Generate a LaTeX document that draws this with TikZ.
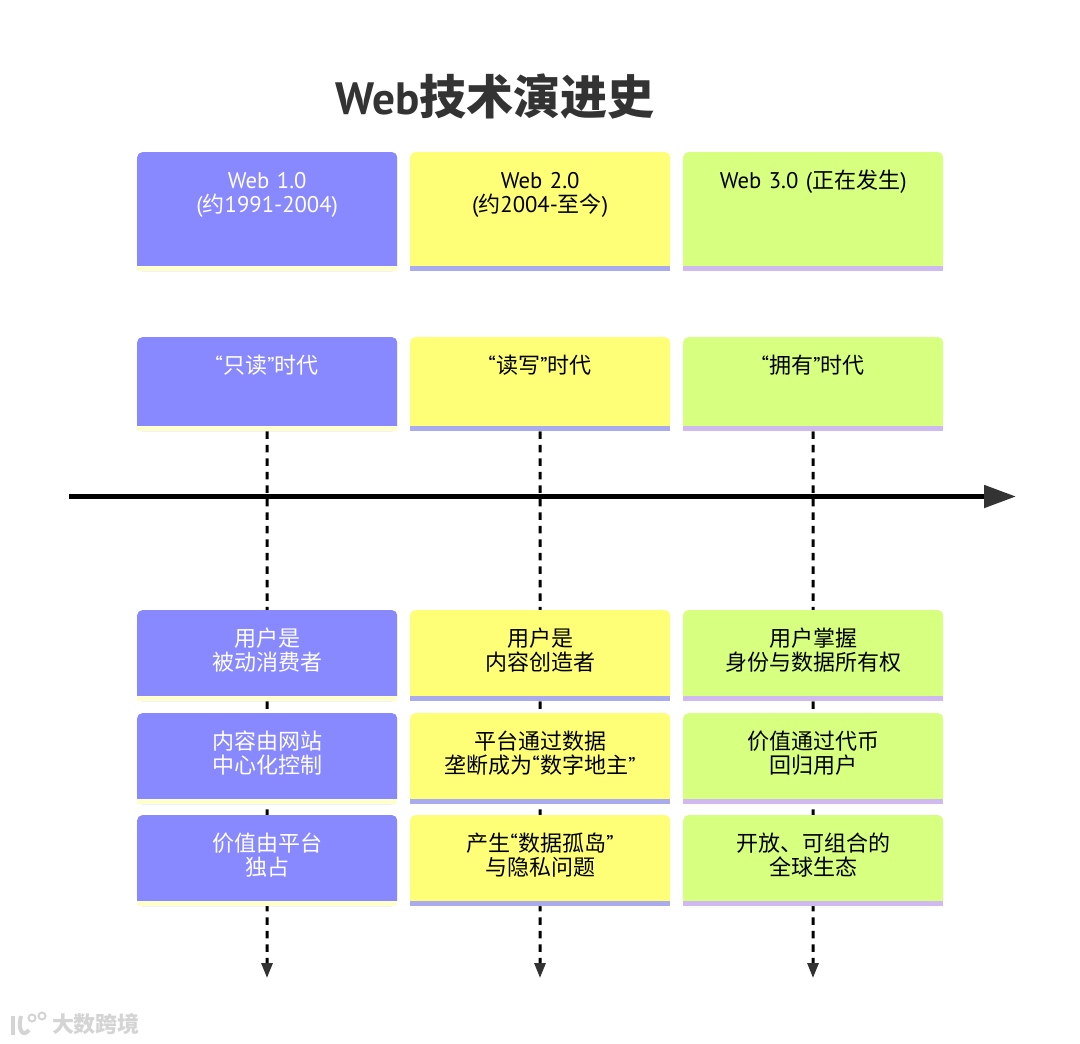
\documentclass[tikz,border=0pt]{standalone}
\usepackage{fontspec}
\setmainfont[Scale=1.03]{PT Sans}
\newfontfamily\cjkfont{Noto Sans CJK SC}
\newcommand{\zh}[1]{{\cjkfont #1}}
\usetikzlibrary{arrows.meta, backgrounds}
\definecolor{cardpurple}{HTML}{8888FF}
\definecolor{cardyellow}{HTML}{FFFF77}
\definecolor{cardgreen}{HTML}{D7FF80}
\definecolor{strippale}{HTML}{FFFFCC}
\definecolor{stripblue}{HTML}{AAAAEE}
\definecolor{striplilac}{HTML}{D0B8F0}
\definecolor{inkgray}{HTML}{333333}
\definecolor{markgray}{HTML}{D4D4D4}
\tikzset{
  card/.style={anchor=north west, fill=#1, rounded corners=5pt, inner sep=0pt,
    text width=260pt, align=center, text height=36pt, font=\fontsize{22}{24.5}\selectfont},
  one/.style={card=cardpurple, text=white},
  two/.style={card=cardyellow, text=black},
  three/.style={card=cardgreen, text=black},
}
\begin{document}
\begin{tikzpicture}[x=1pt,y=-1pt]
    \tikzstyle{lifeline} = [black, line width=3pt, dash pattern=on 7.5pt off 6pt, -{Triangle[length=15pt,width=11pt,color=inkgray]}]
    \tikzstyle{axis} = [black, line width=5pt, -{Triangle[length=32pt,width=22pt,color=inkgray]}]

    \useasboundingbox (0,0) rectangle (1080,1044);

    \node[font=\fontsize{44}{50}\selectfont\bfseries, text=inkgray] (title) at (495,96) {Web\zh{\fontsize{47}{50}\selectfont\bfseries 技术演进史}};

    \node[one, text depth=83pt] (v1) at (137,152) {Web 1.0\\(\zh{约}1991-2004)};
    \node[two, text depth=83pt] (v2) at (410,152) {Web 2.0\\(\zh{约}2004-\zh{至今})};
    \node[three, text depth=83pt] (v3) at (683,152) {Web 3.0 (\zh{正在发生})};

    \node[one, text depth=58pt] (era1) at (137,337) {“\zh{只读}”\zh{时代}};
    \node[two, text depth=58pt] (era2) at (410,337) {“\zh{读写}”\zh{时代}};
    \node[three, text depth=58pt] (era3) at (683,337) {“\zh{拥有}”\zh{时代}};

    \node[one, text depth=55pt] (user1) at (137,610) {\zh{用户是}\\\zh{被动消费者}};
    \node[two, text depth=55pt] (user2) at (410,610) {\zh{用户是}\\\zh{内容创造者}};
    \node[three, text depth=55pt] (user3) at (683,610) {\zh{用户掌握}\\\zh{身份与数据所有权}};

    \node[one, text depth=55pt] (ctrl1) at (137,713) {\zh{内容由网站}\\\zh{中心化控制}};
    \node[two, text depth=55pt] (ctrl2) at (410,713) {\zh{平台通过数据}\\\zh{垄断成为}“\zh{数字地主}”};
    \node[three, text depth=55pt] (ctrl3) at (683,713) {\zh{价值通过代币}\\\zh{回归用户}};

    \node[one, text depth=55pt] (val1) at (137,815) {\zh{价值由平台}\\\zh{独占}};
    \node[two, text depth=55pt] (val2) at (410,815) {\zh{产生}“\zh{数据孤岛}”\\\zh{与隐私问题}};
    \node[three, text depth=55pt] (val3) at (683,815) {\zh{开放、可组合的}\\\zh{全球生态}};

    % strip along the foot of every card
    \foreach \row in {v,era,user,ctrl,val}
        \foreach \col/\stripcolor in {1/strippale,2/stripblue,3/striplilac}
            \fill[\stripcolor] (\row\col.south west) rectangle ([yshift=5pt]\row\col.south east);

    \coordinate (end1) at (267,978);
    \coordinate (end2) at (540,978);
    \coordinate (end3) at (813,978);
    \coordinate (axisstart) at (69,496.5);
    \coordinate (axisend) at (1016,496.5);

    \begin{scope}[on background layer]
        \draw[lifeline] (era1.south) -- (end1);
        \draw[lifeline] (era2.south) -- (end2);
        \draw[lifeline] (era3.south) -- (end3);
    \end{scope}
    \draw[axis] (axisstart) -- (axisend);

    % faint mark in the corner
    \node[text=markgray, font=\cjkfont\fontsize{22}{24}\selectfont\bfseries] (mark) at (96,1024) {大数跨境};
    \draw[markgray, line width=4pt] (13,1016) -- (13,1035);
    \draw[markgray, line width=4pt] (21,1016) .. controls (17,1032) and (24,1037) .. (29,1030);
    \draw[markgray, line width=2pt] (32,1018) circle (3.5pt);
    \draw[markgray, line width=2pt] (42,1016) circle (3.5pt);
\end{tikzpicture}
\end{document}
